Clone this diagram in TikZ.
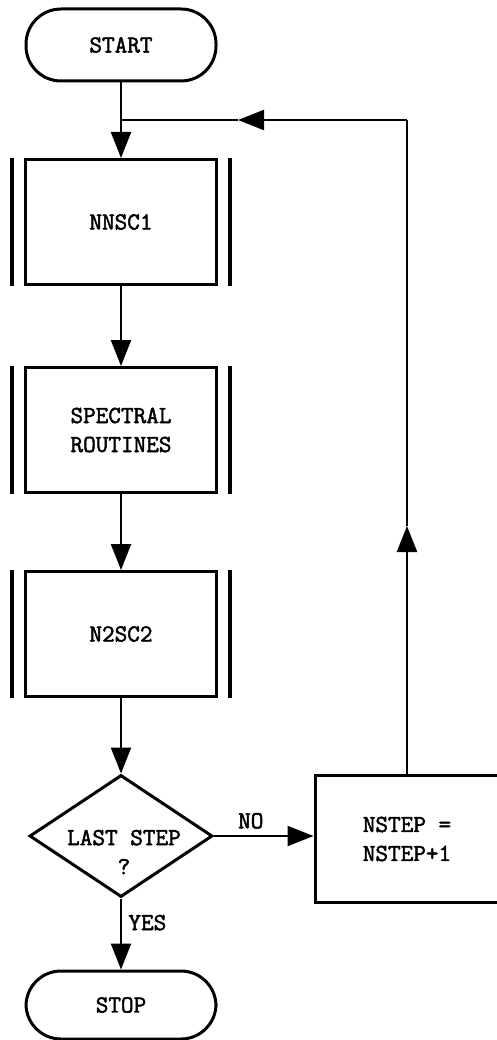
\documentclass[tikz,border=0pt]{standalone}
\usepackage{fontspec}
\setmonofont{Latin Modern Mono}[FakeBold=2]
\usepackage{tikz}
\usetikzlibrary{shapes,arrows.meta,positioning,calc}

\begin{document}
\begin{tikzpicture}[x=1pt, y=-1pt,
        every node/.style={font=\ttfamily\fontsize{24.5}{29}\selectfont},
        terminal/.style={draw, line width=3pt, rectangle, rounded corners=35pt, minimum width=190pt, minimum height=72pt, inner sep=0pt},
        procbox/.style={draw, line width=3pt, rectangle, minimum width=191pt, minimum height=125pt, inner sep=0pt, align=center},
        decision/.style={draw, line width=3pt, diamond, minimum width=183pt, minimum height=122pt, inner sep=0pt},
        bar/.style={line width=3.5pt},
        line/.style={line width=2.2pt},
        flow/.style={line width=2.2pt, -{Triangle[length=26pt, width=20pt]}}]
        \clip (0,0) rectangle (497,1040);

        \node[terminal] (start) at (121,45) {START};
        \node[procbox] (nnsc1) at (121,222) {NNSC1};
        \node[procbox] (spectral) at (121,430) {SPECTRAL\\ROUTINES};
        \node[procbox] (n2sc2) at (121,634) {N2SC2};
        \node[decision] (last) at (121,836) {};
        \node[align=center] (lasttxt) at (124,852) {LAST STEP\\?};
        \node[terminal, minimum height=68pt] (stop) at (121,1005) {STOP};
        \node[draw, line width=3pt, minimum width=184pt, minimum height=127pt, inner sep=0pt, align=left] (nstep) at (407,839) {NSTEP =\\NSTEP+1};

        % side bars of the predefined processes
        \foreach \b in {nnsc1,spectral,n2sc2} {
            \draw[bar] ([xshift=-12pt]\b.north west) -- ([xshift=-12pt]\b.south west);
            \draw[bar] ([xshift=12pt]\b.north east) -- ([xshift=12pt]\b.south east);
        }

        % main flow
        \draw[flow] (start) -- (nnsc1);
        \draw[flow] (nnsc1) -- (spectral);
        \draw[flow] (spectral) -- (n2sc2);
        \draw[flow] (n2sc2) -- (last);
        \draw[flow] (last.south) -- node[right, pos=0.34, xshift=3pt] (yes) {YES} (stop.north);
        \draw[flow] (last.east) -- node[above, pos=0.37, yshift=3pt] (no) {NO} (last.east -| nstep.west);

        % loop back
        \coordinate (join) at (121,120);
        \coordinate (corner) at (407,120);
        \coordinate (uptip) at (407,526);
        \coordinate (lefttip) at (238,120);
        \draw[flow] (nstep.north) -- (uptip);
        \draw[line] (uptip) -- (corner);
        \draw[flow] (corner) -- (lefttip);
        \draw[line] (lefttip) -- (join);
    \end{tikzpicture}
\end{document}
